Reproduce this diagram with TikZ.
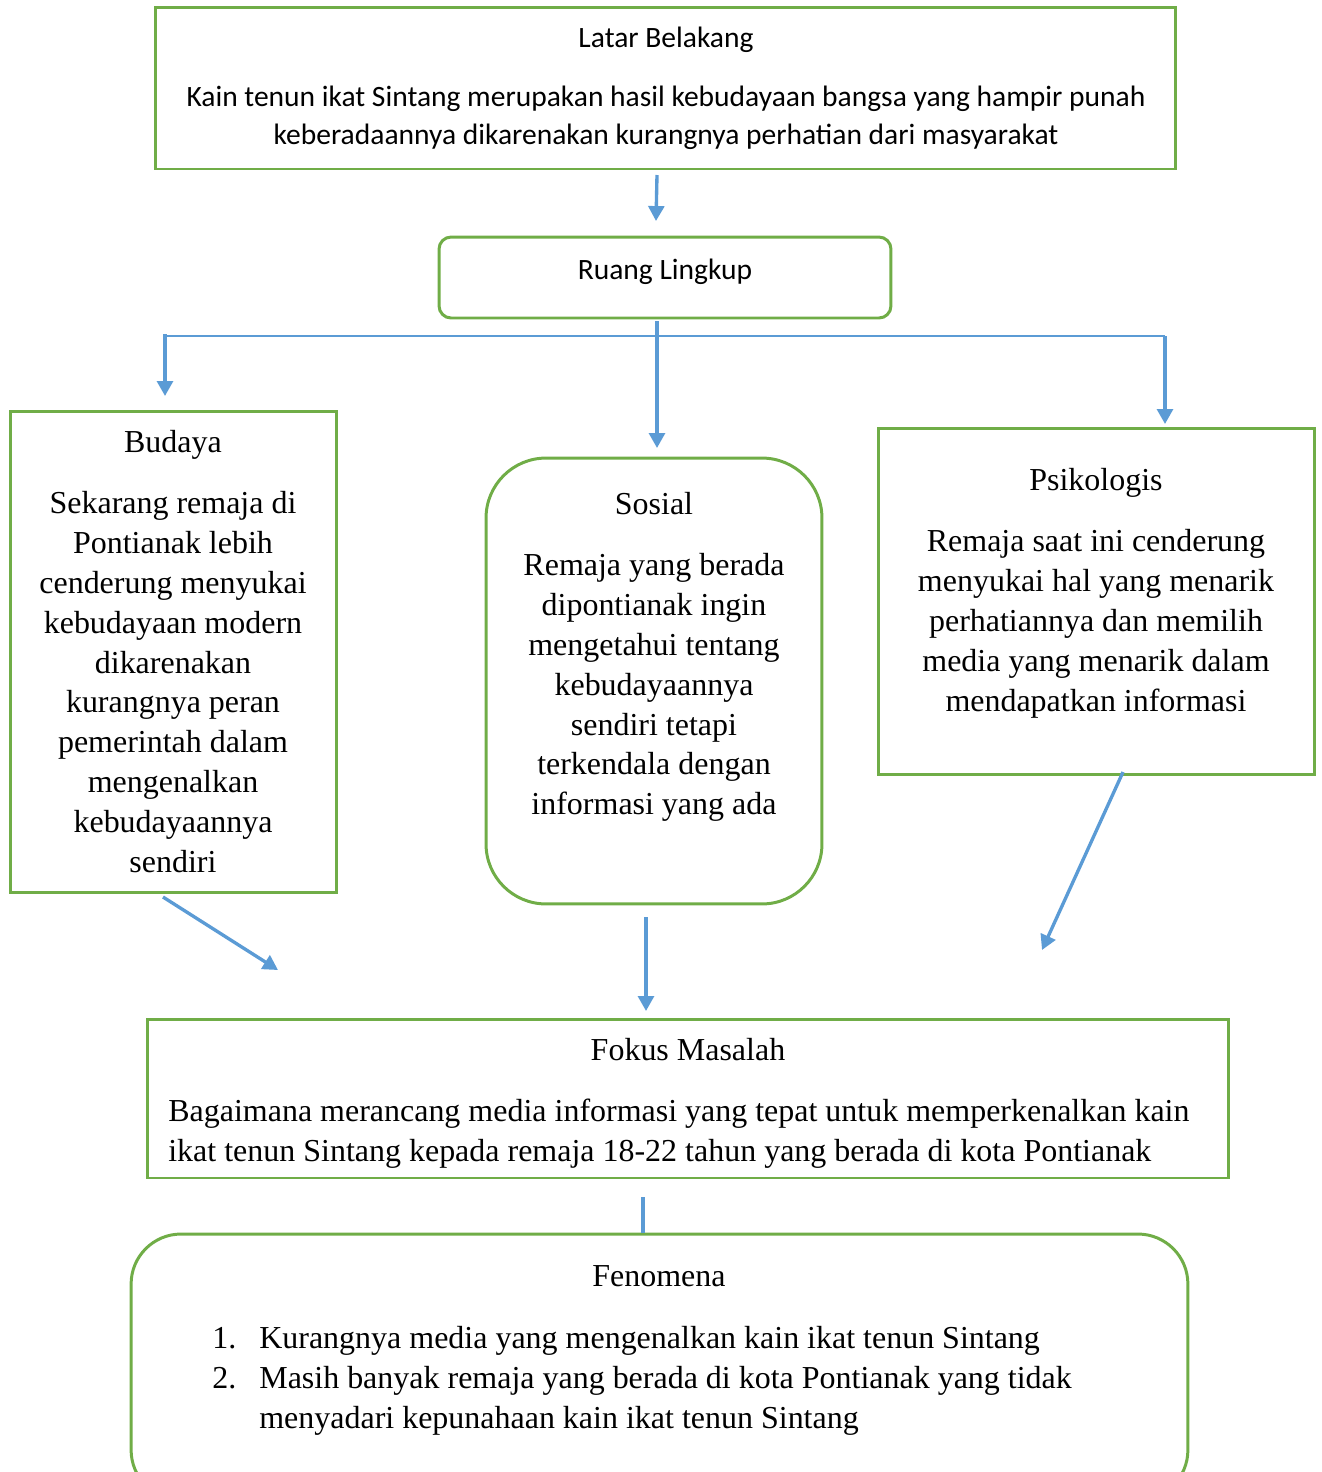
\documentclass[tikz,border=0pt]{standalone}
\usepackage{fontspec}
\setmainfont{Liberation Serif}
\newfontfamily\sansfnt{Carlito}
\usetikzlibrary{arrows.meta,calc}

\definecolor{boxgreen}{HTML}{70AD47}
\definecolor{arrowblue}{HTML}{5B9BD5}

\tikzset{
  box/.style={draw=boxgreen, line width=1.7pt, inner sep=0pt},
  roundbox/.style={box, rounded corners=#1},
  arr/.style={draw=arrowblue, line width=1.9pt, -{Triangle[width=9pt,length=8.5pt]}},
  link/.style={draw=arrowblue, line width=1.9pt},
  thinlink/.style={draw=arrowblue, line width=0.9pt},
  serif/.style={font=\fontsize{18.2}{22.7}\selectfont, inner sep=0pt, align=center},
  sans/.style={font=\sansfnt\fontsize{16.8}{21.5}\selectfont, inner sep=0pt, align=center},
}

\begin{document}
\begin{tikzpicture}[x=0.02cm, y=-0.02cm]
  \useasboundingbox (0,0) rectangle (1322,1472);
  \clip (0,0) rectangle (1322,1472);

  % boxes
  \node[box, minimum width=20.42cm, minimum height=3.24cm] (latar) at (665.5,88) {};
  \node[roundbox=0.24cm, minimum width=9.04cm, minimum height=1.62cm] (ruang) at (665,277.5) {};
  \node[box, minimum width=6.54cm, minimum height=9.64cm] (budaya) at (173.5,652) {};
  \node[roundbox=1.2cm, minimum width=6.72cm, minimum height=8.92cm] (sosial) at (654,681) {};
  \node[box, minimum width=8.74cm, minimum height=6.94cm] (psiko) at (1096.5,601.5) {};
  \node[box, minimum width=21.64cm, minimum height=3.18cm] (fokus) at (688,1098.5) {};
  \node[roundbox=1cm, minimum width=21.14cm, minimum height=5.32cm] (fenomena) at (659.5,1367) {};

  % texts
  \node[sans, anchor=north] (latartext) at (666,27)
    {Latar Belakang\\[12pt]
     Kain tenun ikat Sintang merupakan hasil kebudayaan bangsa yang hampir punah\\
     keberadaannya dikarenakan kurangnya perhatian dari masyarakat};
  \node[sans] (ruangtext) at (665,272) {Ruang Lingkup};
  \node[serif, anchor=north] (budayatext) at (173,430)
    {Budaya\\[12pt]
     Sekarang remaja di\\Pontianak lebih\\cenderung menyukai\\kebudayaan modern\\
     dikarenakan\\kurangnya peran\\pemerintah dalam\\mengenalkan\\kebudayaannya\\sendiri};
  \node[serif, anchor=north] (sosialtext) at (654,492)
    {Sosial\\[12pt]
     Remaja yang berada\\dipontianak ingin\\mengetahui tentang\\kebudayaannya\\
     sendiri tetapi\\terkendala dengan\\informasi yang ada};
  \node[serif, anchor=north] (psikotext) at (1096,468)
    {Psikologis\\[12pt]
     Remaja saat ini cenderung\\menyukai hal yang menarik\\perhatiannya dan memilih\\
     media yang menarik dalam\\mendapatkan informasi};
  \node[serif, anchor=north] (fokustitle) at (688,1038) {Fokus Masalah};
  \node[serif, anchor=north west, align=left] (fokustext) at (168,1099)
    {Bagaimana merancang media informasi yang tepat untuk memperkenalkan kain\\
     ikat tenun Sintang kepada remaja 18-22 tahun yang berada di kota Pontianak};
  \node[serif, anchor=north] (fenomenatitle) at (659,1265) {Fenomena};
  \node[serif, anchor=north west, align=left] (fenomenalist) at (212,1326)
    {\makebox[0.94cm][l]{1.}Kurangnya media yang mengenalkan kain ikat tenun Sintang\\
     \makebox[0.94cm][l]{2.}Masih banyak remaja yang berada di kota Pontianak yang tidak\\
     \makebox[0.94cm][l]{}menyadari kepunahaan kain ikat tenun Sintang};

  % connector ends
  \coordinate (latarout) at (657,175);
  \coordinate (ruangin) at (656,221);
  \coordinate (ruangout) at (657,321);
  \coordinate (sosialin) at (657,448);
  \coordinate (branchleft) at (165,336);
  \coordinate (branchright) at (1165,336);
  \coordinate (budayain) at (165,396);
  \coordinate (psikoin) at (1165,424);
  \coordinate (budayaout) at (163,897);
  \coordinate (budayatip) at (278,970);
  \coordinate (psikoout) at (1123,772);
  \coordinate (psikotip) at (1042,950);
  \coordinate (sosialout) at (646,917);
  \coordinate (fokusin) at (646,1011);
  \coordinate (fokusout) at (643,1197);
  \coordinate (fenomenain) at (643,1233);

  % connectors
  \draw[arr] (latarout) -- (ruangin);
  \draw[thinlink] (branchleft) -- (branchright);
  \draw[arr] (ruangout) -- (sosialin);
  \draw[arr] ([yshift=0.04cm]branchleft) -- (budayain);
  \draw[arr] (branchright) -- (psikoin);
  \draw[arr] (budayaout) -- (budayatip);
  \draw[arr] (psikoout) -- (psikotip);
  \draw[arr] (sosialout) -- (fokusin);
  \draw[link] (fokusout) -- (fenomenain);
\end{tikzpicture}
\end{document}
